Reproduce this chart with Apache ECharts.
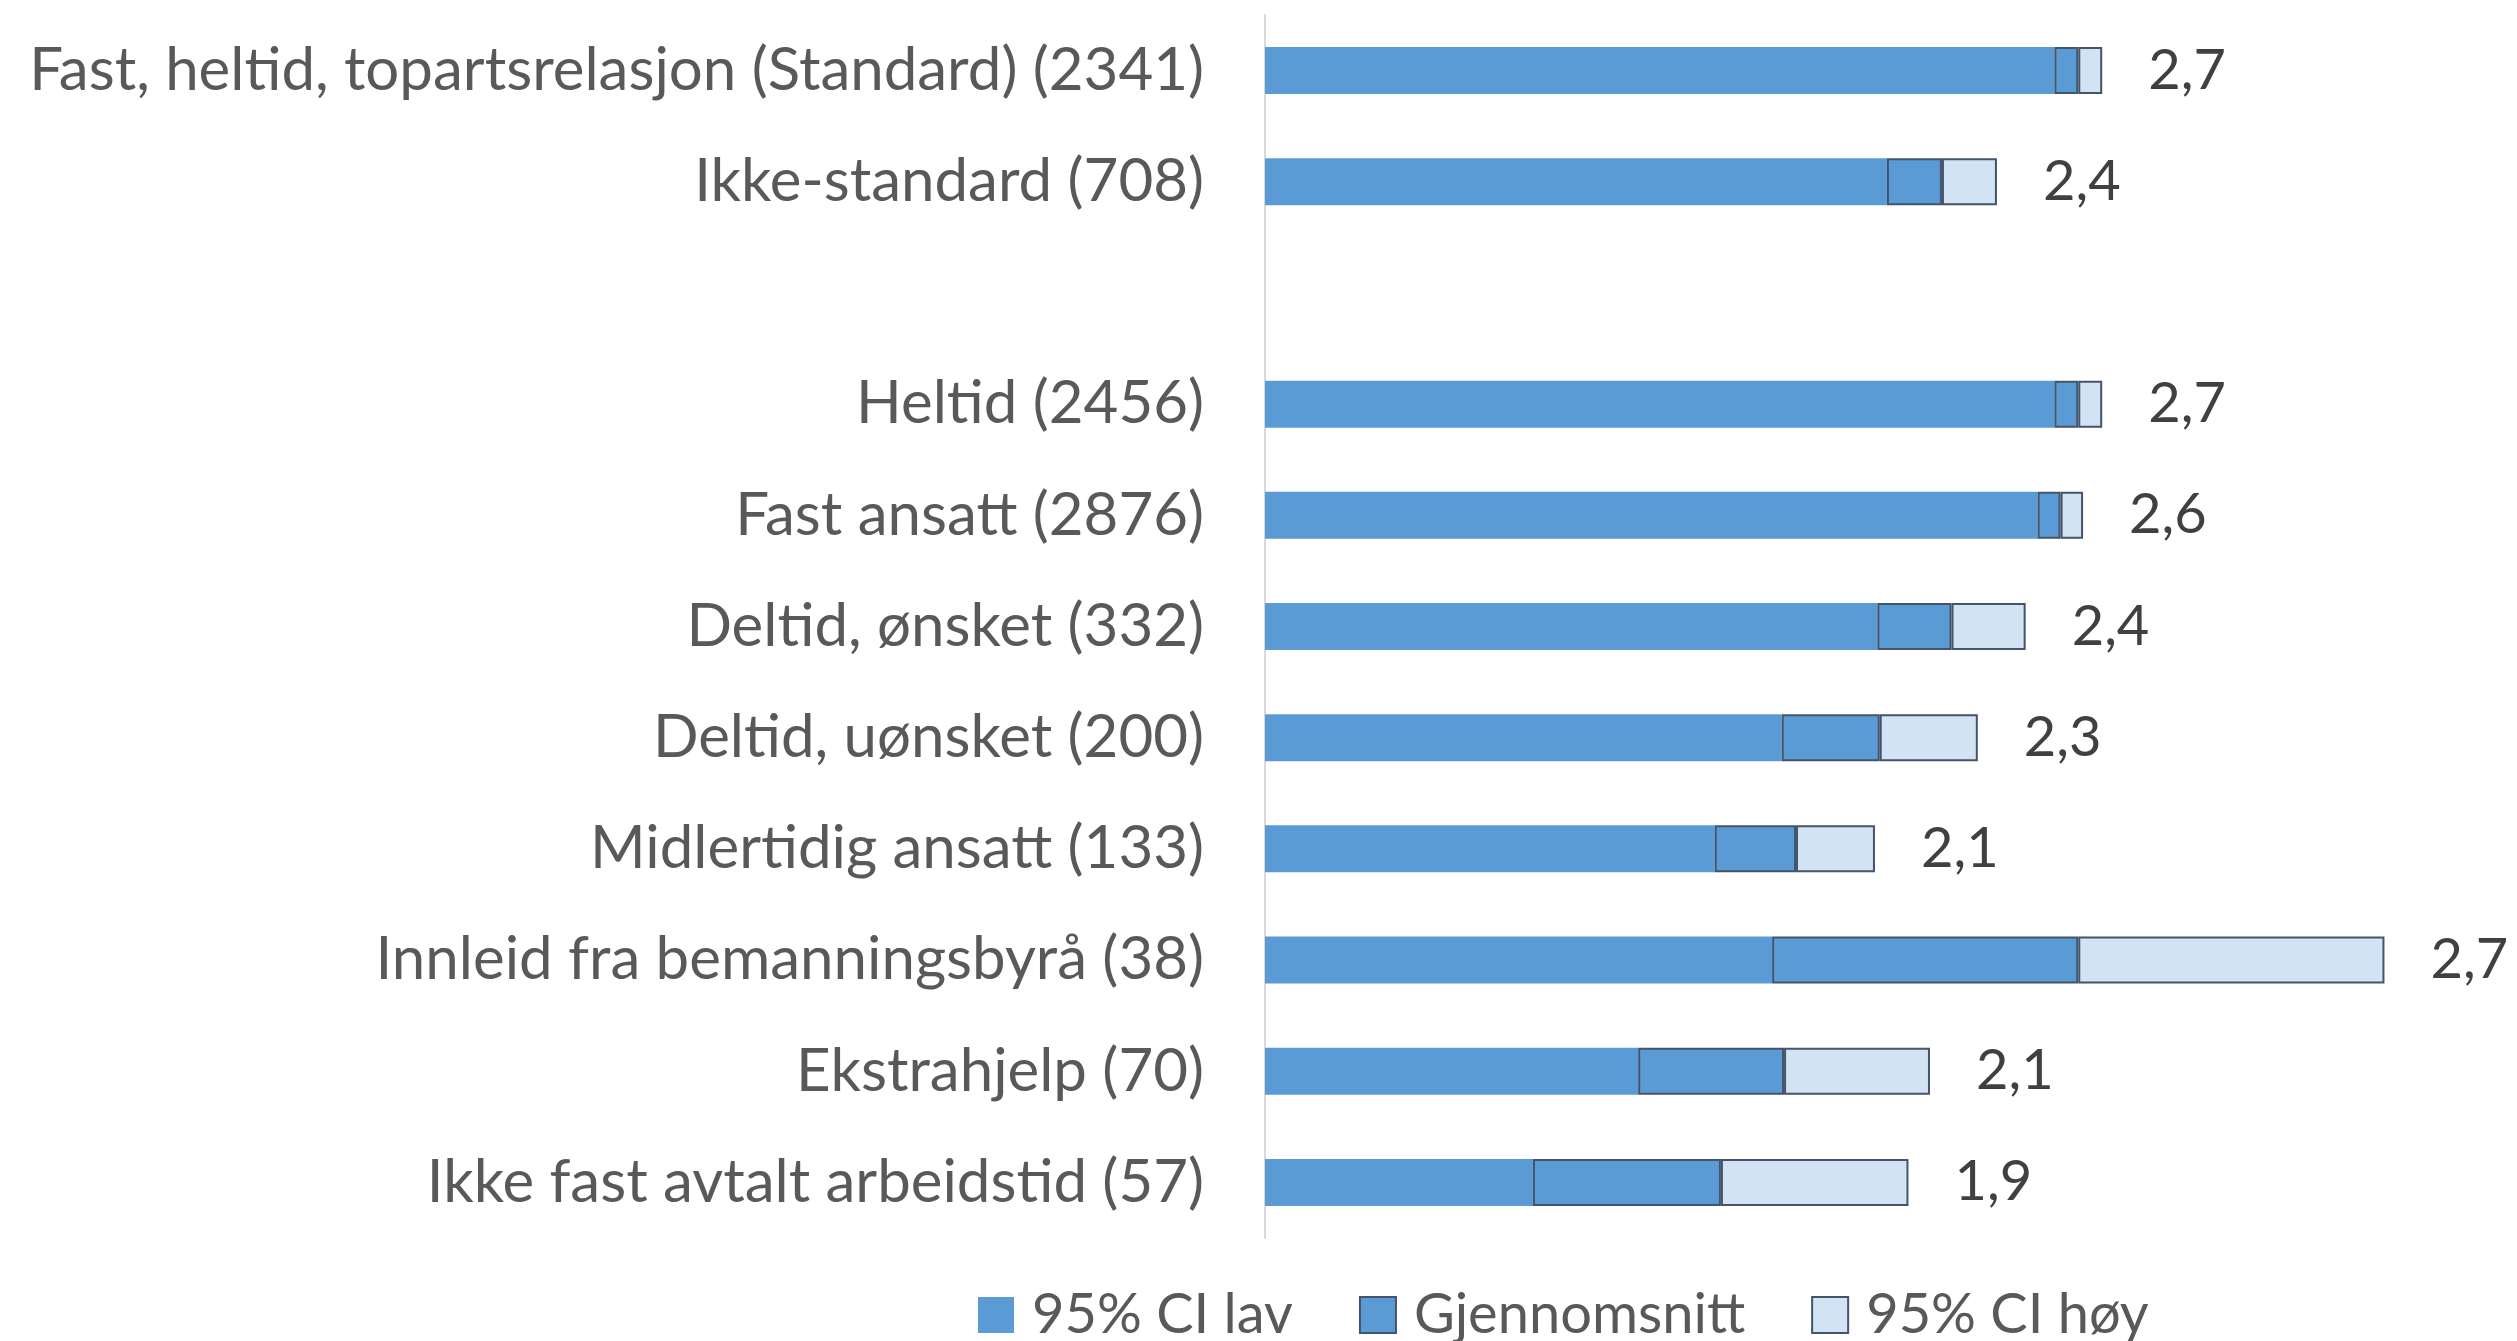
<!DOCTYPE html>
<html>
<head>
<meta charset="utf-8">
<script src="https://cdn.jsdelivr.net/npm/echarts@6/dist/echarts.min.js"></script>
<style>
  html, body { margin: 0; padding: 0; background: #fff; }
  #main { width: 2517px; height: 1341px; }
</style>
</head>
<body>
<div id="main"></div>
<script>
var categories = [
    'Fast, heltid, topartsrelasjon (Standard) (2341)',
    'Ikke-standard (708)',
    '',
    'Heltid (2456)',
    'Fast ansatt (2876)',
    'Deltid, ønsket (332)',
    'Deltid, uønsket (200)',
    'Midlertidig ansatt (133)',
    'Innleid fra bemanningsbyrå (38)',
    'Ekstrahjelp (70)',
    'Ikke fast avtalt arbeidstid (57)'
];
var ciLow  = [2.65, 2.30, null, 2.65, 2.615, 2.28, 2.08, 1.94, 2.06, 1.78, 1.56];
var mean   = [2.70, 2.415, null, 2.70, 2.663, 2.435, 2.285, 2.11, 2.70, 2.085, 1.953];
var ciHigh = [2.75, 2.53, null, 2.75, 2.71, 2.59, 2.49, 2.275, 3.34, 2.39, 2.345];
var valueLabels = ['2,7', '2,4', '', '2,7', '2,6', '2,4', '2,3', '2,1', '2,7', '2,1', '1,9'];

var FONT = 'Lato';

// stacked pieces: low, mean-low, high-mean
var meanPart = mean.map(function(v, i) { return v == null ? null : +(v - ciLow[i]).toFixed(3); });
var highPart = ciHigh.map(function(v, i) { return v == null ? null : +(v - mean[i]).toFixed(3); });

var myChart = echarts.init(document.getElementById('main'));

var option = {
    animation: false,
    grid: {
        left: 1265,
        right: 56,
        top: 15,
        bottom: 103
    },
    legend: {
        left: 973,
        top: 1282,
        icon: 'rect',
        itemWidth: 36,
        itemHeight: 36,
        itemGap: 66,
        textStyle: {
            fontFamily: FONT,
            fontSize: 56,
            color: '#595959',
            padding: [0, 0, 0, 13]
        },
        data: ['95% CI lav', 'Gjennomsnitt', '95% CI høy']
    },
    xAxis: {
        type: 'value',
        min: 1,
        max: 3.5,
        show: false
    },
    yAxis: {
        type: 'category',
        inverse: true,
        data: categories,
        axisTick: {show: false},
        axisLine: {lineStyle: {color: '#d9d9d9', width: 2}},
        axisLabel: {
            fontFamily: FONT,
            fontSize: 60,
            color: '#595959',
            margin: 61
        }
    },
    series: [{
        name: '95% CI lav',
        type: 'bar',
        stack: 'ci',
        clip: true,
        barWidth: 47,
        itemStyle: {color: '#5B9BD5'},
        data: ciLow
    }, {
        name: 'Gjennomsnitt',
        type: 'bar',
        stack: 'ci',
        clip: true,
        barWidth: 47,
        itemStyle: {color: '#5B9BD5', borderColor: '#44546A', borderWidth: 2},
        data: meanPart
    }, {
        name: '95% CI høy',
        type: 'bar',
        stack: 'ci',
        clip: true,
        barWidth: 47,
        itemStyle: {color: '#D2E3F3', borderColor: '#44546A', borderWidth: 2},
        label: {
            show: true,
            position: 'right',
            distance: 46,
            fontFamily: FONT,
            fontSize: 56,
            color: '#404040',
            formatter: function(p) { return valueLabels[p.dataIndex]; }
        },
        data: highPart
    }]
};

myChart.setOption(option);
</script>
</body>
</html>
